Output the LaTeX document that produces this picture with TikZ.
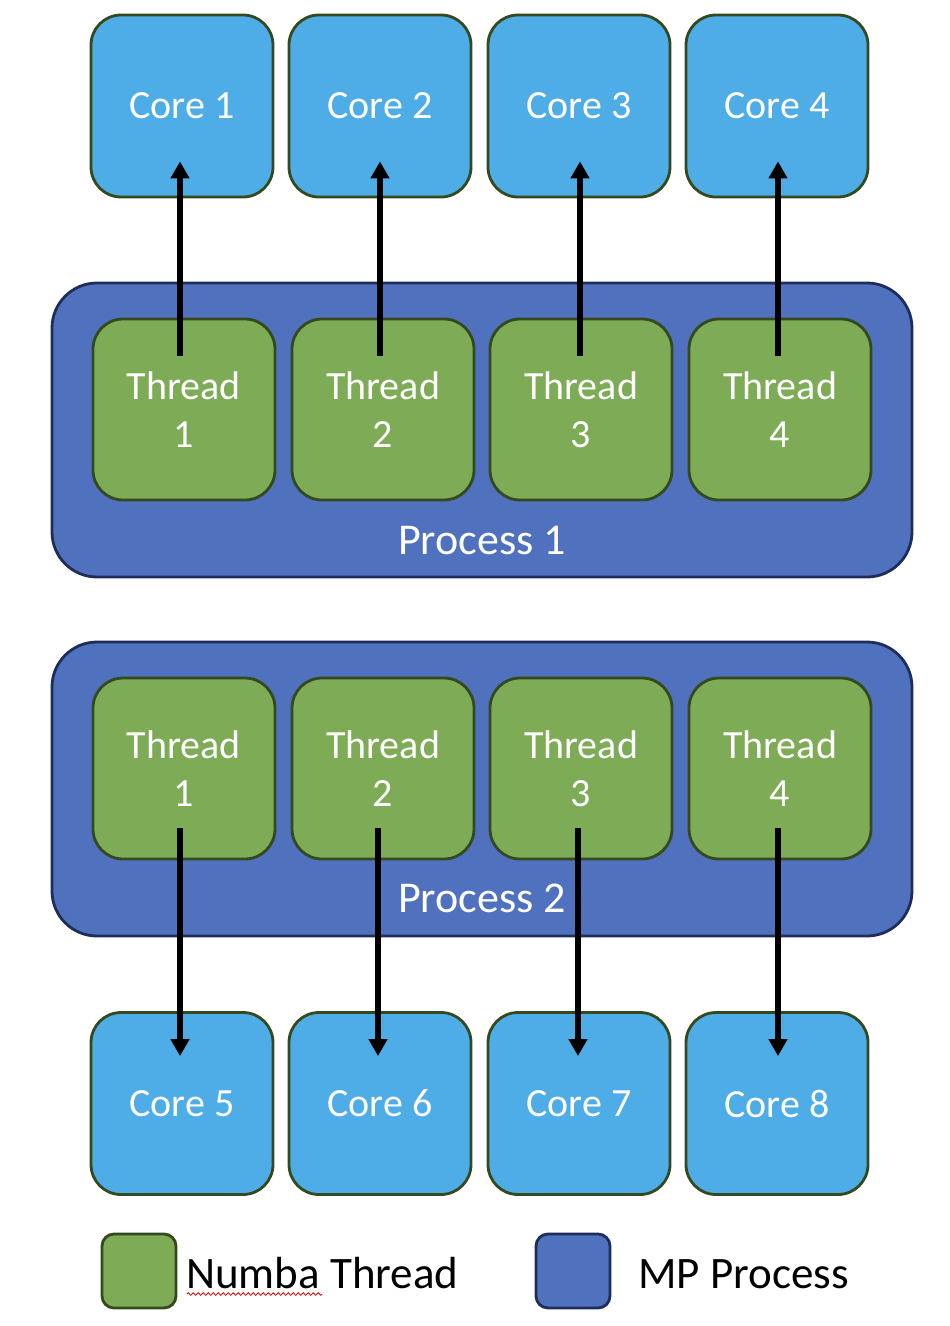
\documentclass[tikz,border=0pt]{standalone}
\usepackage{fontspec}
\setmainfont{Carlito}
\usetikzlibrary{arrows.meta,calc,decorations.pathmorphing}

\definecolor{corefill}{RGB}{78,172,230}
\definecolor{threadfill}{RGB}{126,171,85}
\definecolor{boxedge}{RGB}{52,74,30}
\definecolor{procfill}{RGB}{79,113,190}
\definecolor{procedge}{RGB}{30,45,90}

\tikzset{
  corebox/.style={draw=boxedge, line width=2.8pt, fill=corefill, rounded corners=30pt,
    minimum width=182pt, minimum height=182pt, inner sep=0pt, text=white,
    font=\fontsize{40}{48}\selectfont},
  threadbox/.style={draw=boxedge, line width=2.8pt, fill=threadfill, rounded corners=30pt,
    minimum width=182pt, minimum height=181pt, inner sep=0pt, text=white, align=center,
    font=\fontsize{40}{48}\selectfont},
  procbox/.style={draw=procedge, line width=2.8pt, fill=procfill, rounded corners=45pt,
    minimum width=860pt, minimum height=294pt, inner sep=0pt},
  proclabel/.style={text=white, inner sep=0pt, font=\fontsize{44}{52}\selectfont},
  keybox/.style={line width=2.8pt, rounded corners=12pt, minimum size=74pt, inner sep=0pt},
  keytext/.style={inner sep=0pt, anchor=base west, font=\fontsize{45}{54}\selectfont},
  link/.style={line width=5.5pt, -{Triangle[width=18pt,length=17pt]}}
}

\begin{document}
\begin{tikzpicture}[x=1pt,y=-1pt]
\useasboundingbox (0,0) rectangle (950,1326);

% upper row of cores
\node[corebox] (c1) at (182,106) {\raisebox{-2pt}{Core 1}};
\node[corebox] (c2) at (380,106) {\raisebox{-2pt}{Core 2}};
\node[corebox] (c3) at (579,106) {\raisebox{-2pt}{Core 3}};
\node[corebox] (c4) at (777,106) {\raisebox{-2pt}{Core 4}};

% process 1 with its threads
\node[procbox] (p1) at (482,430) {};
\node[proclabel] (p1l) at (482,540) {Process 1};
\node[threadbox] (t11) at (184,409.5) {Thread\\1};
\node[threadbox] (t12) at (383,409.5) {Thread\\2};
\node[threadbox] (t13) at (581,409.5) {Thread\\3};
\node[threadbox] (t14) at (780,409.5) {Thread\\4};

% process 2 with its threads
\node[procbox] (p2) at (482,789) {};
\node[proclabel] (p2l) at (482,898) {Process 2};
\node[threadbox] (t21) at (184,768.5) {Thread\\1};
\node[threadbox] (t22) at (383,768.5) {Thread\\2};
\node[threadbox] (t23) at (581,768.5) {Thread\\3};
\node[threadbox] (t24) at (780,768.5) {Thread\\4};

% lower row of cores
\node[corebox] (c5) at (182,1103.5) {\raisebox{-2pt}{Core 5}};
\node[corebox] (c6) at (380,1103.5) {\raisebox{-2pt}{Core 6}};
\node[corebox] (c7) at (579,1103.5) {\raisebox{-2pt}{Core 7}};
\node[corebox] (c8) at (777,1103.5) {\raisebox{-2pt}{Core 8}};

% threads of process 1 mapped to cores 1-4
\draw[link] ($(t11.north -| c1.south)+(-2,38)$) -- ($(c1.south)+(-2,-37)$);
\draw[link] ($(t12.north -| c2.south)+(0,38)$) -- ($(c2.south)+(0,-37)$);
\draw[link] ($(t13.north -| c3.south)+(1,38)$) -- ($(c3.south)+(1,-37)$);
\draw[link] ($(t14.north -| c4.south)+(1,38)$) -- ($(c4.south)+(1,-37)$);

% threads of process 2 mapped to cores 5-8
\draw[link] ($(t21.south -| c5.north)+(-2,-32)$) -- ($(c5.north)+(-2,45)$);
\draw[link] ($(t22.south -| c6.north)+(-2,-32)$) -- ($(c6.north)+(-2,45)$);
\draw[link] ($(t23.south -| c7.north)+(-1,-32)$) -- ($(c7.north)+(-1,45)$);
\draw[link] ($(t24.south -| c8.north)+(1,-32)$) -- ($(c8.north)+(1,45)$);

% legend
\node[keybox, draw=boxedge, fill=threadfill] (k1) at (139,1271) {};
\node[keytext] (k1t) at (186,1288) {Numba Thread};
\draw[red!85!black, line width=0.8pt, decorate,
      decoration={zigzag, segment length=5pt, amplitude=1.4pt}]
  ($(k1t.base west)+(1,6)$) -- ($(k1t.base west)+(136,6)$);
\node[keybox, draw=procedge, fill=procfill] (k2) at (573,1271) {};
\node[keytext] (k2t) at (638,1288) {MP Process};
\end{tikzpicture}
\end{document}
